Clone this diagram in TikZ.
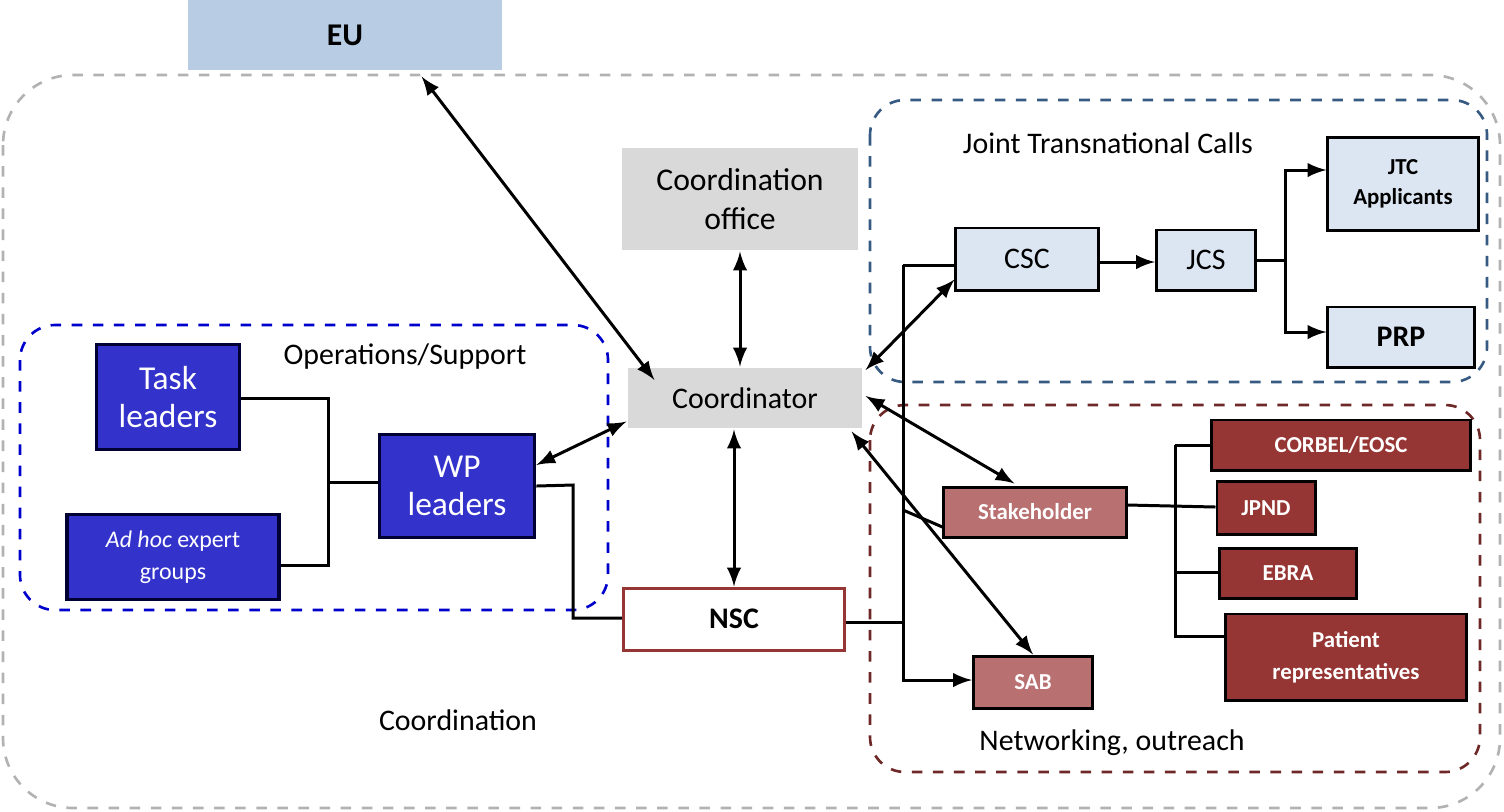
\documentclass[tikz,border=0pt]{standalone}
\usepackage{fontspec}
\setmainfont{Carlito}
\usetikzlibrary{positioning,calc}
\definecolor{eublue}{RGB}{184,204,228}
\definecolor{ltgray}{RGB}{217,217,217}
\definecolor{wpblue}{RGB}{51,51,204}
\definecolor{jtcfill}{RGB}{220,230,242}
\definecolor{jtcline}{RGB}{55,90,130}
\definecolor{netred}{RGB}{110,40,40}
\definecolor{stkred}{RGB}{185,112,112}
\definecolor{darkred}{RGB}{150,54,52}
\begin{document}
\begin{tikzpicture}[x=0.01cm, y=-0.01cm, line width=0.85pt,
                    link/.style   = {latex-latex, line width=0.85pt},
                    area/.style   = {dashed, rounded corners=0.35cm, line width=0.75pt},
                    grey/.style   = {fill = ltgray, text = black, font = \fontsize{9}{11}\selectfont,
                                     align = center, inner sep = 0pt},
                    wp/.style     = {draw = black!80!blue, fill = wpblue, text = white, line width=1pt,
                                     align = center, inner sep = 0pt, font = \fontsize{9.5}{11}\selectfont},
                    jtc/.style    = {draw = black, fill = jtcfill, align = center, inner sep = 0pt,
                                     font = \fontsize{8.5}{10}\selectfont},
                    net/.style    = {draw = black, fill = darkred, text = white, align = center,
                                     inner sep = 0pt, font = \bfseries\fontsize{6.5}{9}\selectfont}]

\useasboundingbox (0,0) rectangle (1504,811);

% areas
\draw[area, gray!60, rounded corners=0.7cm] (3,75) rectangle (1500,808);
\draw[area, blue!80!black] (20,325) rectangle (608,610);
\draw[area, jtcline] (870,100) rectangle (1487,382);
\draw[area, netred] (870,405) rectangle (1480,772);

\node (lops) at (405,357) {\fontsize{8.5}{10}\selectfont Operations/Support};
\node (ljtc) at (1108,143) {\fontsize{8.5}{10}\selectfont Joint Transnational Calls};
\node (lnet) at (1112,743) {\fontsize{8.5}{10}\selectfont Networking, outreach};
\node (lcoo) at (458,720) {\fontsize{8.5}{10}\selectfont Coordination};

% central column
\node[grey, fill=eublue, minimum width=3.14cm, minimum height=0.7cm, font=\bfseries\fontsize{9}{11}\selectfont]
     (eu) at (345,35) {EU};
\node[grey, minimum width=2.35cm, minimum height=1.02cm] (office) at (740,199) {Coordination\\office};
\node[grey, minimum width=2.34cm, minimum height=0.6cm, font=\fontsize{8.5}{10}\selectfont]
     (coord) at (745,398) {Coordinator};
\node[draw=darkred, fill=white, minimum width=2.21cm, minimum height=0.62cm, inner sep=0pt,
      font=\bfseries\fontsize{8.5}{10}\selectfont] (nsc) at (734,619) {NSC};

% operations
\node[wp, minimum width=1.43cm, minimum height=1.05cm] (task) at (168,397) {Task\\leaders};
\node[wp, minimum width=2.12cm, minimum height=0.85cm, font=\fontsize{6.8}{9}\selectfont]
     (adhoc) at (173,557) {\textit{Ad hoc} expert\\groups};
\node[wp, minimum width=1.55cm, minimum height=1.03cm] (wpl) at (457,486) {WP\\leaders};

% joint transnational calls
\node[jtc, minimum width=1.42cm, minimum height=0.62cm] (csc) at (1027,259) {CSC};
\node[jtc, minimum width=0.99cm, minimum height=0.6cm] (jcs) at (1206,260) {JCS};
\node[jtc, minimum width=1.5cm, minimum height=0.92cm, font=\bfseries\fontsize{6.5}{8.5}\selectfont]
     (appl) at (1403,184) {JTC\\Applicants};
\node[jtc, minimum width=1.46cm, minimum height=0.6cm, font=\bfseries\fontsize{8.5}{10}\selectfont]
     (prp) at (1401,337) {PRP};

% networking
\node[net, fill=stkred, minimum width=1.82cm, minimum height=0.5cm] (stake) at (1035,512) {Stakeholder};
\node[net, fill=stkred, minimum width=1.19cm, minimum height=0.52cm] (sab) at (1033,682) {SAB};
\node[net, minimum width=2.59cm, minimum height=0.5cm] (corbel) at (1341,445) {CORBEL/EOSC};
\node[net, minimum width=0.98cm, minimum height=0.53cm] (jpnd) at (1266,508) {JPND};
\node[net, minimum width=1.36cm, minimum height=0.5cm] (ebra) at (1288,573) {EBRA};
\node[net, minimum width=2.4cm, minimum height=0.86cm] (patient) at (1346,657) {Patient\\representatives};

% double arrows to coordinator
\draw[link] (eu.south east) ++(-82,5) coordinate (euend) -- ($(coord.west)+(28,-18)$);
\draw[link] (office.south) -- (office.south |- coord.north);
\draw[link] (nsc.north) -- (nsc.north |- coord.south);
\draw[link] (wpl.east |- 0,465) -- ($(coord.south west)+(0,-8)$);
\draw[link] (csc.south west) ++(0,-12) coordinate (cscin) -- ($(coord.east)+(2,-28)$);
\draw[link] ($(coord.east)+(2,-2)$) -- ($(stake.north west)+(72,-2)$);
\draw[link] ($(coord.south east)+(-12,2)$) -- (sab.north);

% operations tree
\coordinate (opbus) at (328,482);
\draw (task.east |- 0,398) -| (opbus |- 0,398) -- (opbus |- 0,565) -- (adhoc.east |- 0,565);
\draw (opbus) -- (wpl.west |- opbus);
\draw (wpl.east) -- (573,485) -- (573,618) -- (nsc.west |- 0,618);

% NSC bus
\coordinate (nscbus) at (903,622);
\draw (nsc.east |- nscbus) -- (nscbus);
\draw[-latex] (nscbus |- 0,265) -- (nscbus) -- (nscbus |- 0,680) -- (sab.west |- 0,680);
\draw (nscbus |- 0,265) -- (csc.west |- 0,265);
\draw (nscbus |- 0,510) -- ($(stake.west)+(0,15)$);

% JTC flow
\coordinate (jtcbus) at (1285,260);
\draw[-latex] (csc.east |- 0,262) -- (jcs.west |- 0,262);
\draw (jcs.east |- jtcbus) -- (jtcbus);
\draw[-latex] (jtcbus) |- (appl.west |- 0,170);
\draw[-latex] (jtcbus) |- (prp.west |- 0,332);

% networking tree
\coordinate (netbus) at (1175,507);
\draw (stake.east |- 0,505) -- (jpnd.west |- 0,507);
\draw (netbus |- 0,445) -- (corbel.west |- 0,445);
\draw (netbus |- 0,445) -- (netbus |- 0,636) -- (patient.west |- 0,636);
\draw (netbus |- 0,572) -- (ebra.west |- 0,572);

\end{tikzpicture}
\end{document}
